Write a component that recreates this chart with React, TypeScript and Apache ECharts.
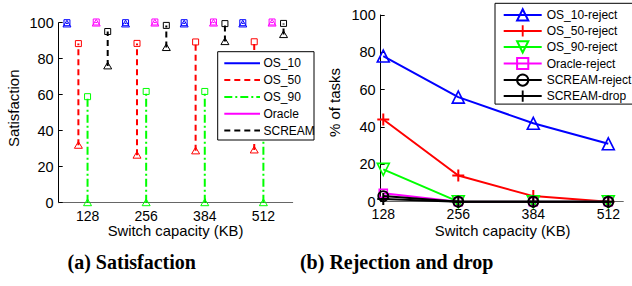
import React, { useEffect, useRef } from "react";
import * as echarts from "echarts";

// ---------- data ----------
const CAPACITIES = [128, 256, 384, 512];
const TICK_LABELS = [128, 256, 384, 512];
const Y_TICKS = [0, 20, 40, 60, 80, 100];

// (a) Satisfaction: per series, max (square) and min (triangle) per capacity
const SAT_NAMES = ["OS_10", "OS_50", "OS_90", "Oracle", "SCREAM"];
const OS10_MAX = [100, 100, 100, 100];
const OS10_MIN = [99.3, 99.3, 99.3, 99.3];
const OS50_MAX = [88.4, 88.5, 89.3, 89.4];
const OS50_MIN = [31.9, 26.4, 28.8, 29.3];
const OS90_MAX = [58.9, 61.8, 61.8, 62];
const OS90_MIN = [0, 0, 0, 0];
const ORACLE_MAX = [100.4, 100.4, 100.4, 100.4];
const ORACLE_MIN = [99.8, 99.8, 99.8, 99.8];
const SCREAM_MAX = [95.1, 98.5, 99.5, 99.6];
const SCREAM_MIN = [76, 86.2, 89.5, 93.4];

// (b) Rejection and drop (% of tasks)
const REJ_NAMES = [
  "OS_10-reject",
  "OS_50-reject",
  "OS_90-reject",
  "Oracle-reject",
  "SCREAM-reject",
  "SCREAM-drop",
];
const OS10_REJECT = [78, 56, 42, 31];
const OS50_REJECT = [44, 14, 3, 0];
const OS90_REJECT = [17.3, 0, 0, 0];
const ORACLE_REJECT = [4.5, 0, 0, 0];
const SCREAM_REJECT = [3, 0, 0, 0];
const SCREAM_DROP = [1.5, 0, 0, 0];

// ---------- styling ----------
const BLUE = "#0000ff";
const RED = "#ff0000";
const GREEN = "#00ff00";
const MAGENTA = "#ff00ff";
const BLACK = "#000000";
const FONT = "Liberation Sans";
const PLUS = "path://M5,0H7V5H12V7H7V12H5V7H0V5H5Z";

const SAT_STYLE = [
  { color: BLUE, dash: null as number[] | null, width: 2, offset: -45 },
  { color: RED, dash: [6, 4], width: 2, offset: -20 },
  { color: GREEN, dash: [8, 3, 2, 3], width: 2, offset: 0 },
  { color: MAGENTA, dash: null, width: 2, offset: 19 },
  { color: BLACK, dash: [6, 4], width: 2, offset: 44 },
];
const SAT_DATA = [
  [OS10_MAX, OS10_MIN],
  [OS50_MAX, OS50_MIN],
  [OS90_MAX, OS90_MIN],
  [ORACLE_MAX, ORACLE_MIN],
  [SCREAM_MAX, SCREAM_MIN],
];

function satSeries(idx: number) {
  const st = SAT_STYLE[idx];
  const [mx, mn] = SAT_DATA[idx];
  return {
    type: "custom",
    name: SAT_NAMES[idx],
    xAxisIndex: 0,
    yAxisIndex: 0,
    clip: false,
    z: 2 + idx,
    encode: { x: 0, y: [1, 2] },
    data: CAPACITIES.map((c, i) => [c + st.offset, mn[i], mx[i]]),
    renderItem: (_params: any, api: any) => {
      const x = api.value(0);
      const lo = api.coord([x, api.value(1)]);
      const hi = api.coord([x, api.value(2)]);
      return {
        type: "group",
        children: [
          {
            type: "line",
            shape: { x1: lo[0], y1: lo[1], x2: hi[0], y2: hi[1] },
            style: {
              stroke: st.color,
              lineWidth: st.width,
              lineDash: st.dash || undefined,
            },
          },
          {
            type: "rect",
            shape: { x: hi[0] - 3, y: hi[1] - 3, width: 6, height: 6 },
            style: { stroke: st.color, fill: "none", lineWidth: 1 },
          },
          {
            type: "polygon",
            shape: {
              points: [
                [lo[0], lo[1] - 3.7],
                [lo[0] + 4, lo[1] + 3],
                [lo[0] - 4, lo[1] + 3],
              ],
            },
            style: { stroke: st.color, fill: "none", lineWidth: 1 },
          },
        ],
      };
    },
  };
}

const REJ_DATA = [
  OS10_REJECT,
  OS50_REJECT,
  OS90_REJECT,
  ORACLE_REJECT,
  SCREAM_REJECT,
  SCREAM_DROP,
];
const REJ_STYLE = [
  { color: BLUE, symbol: "triangle", size: 12, rotate: 0, hollow: true, bw: 1.6 },
  { color: RED, symbol: PLUS, size: 12, rotate: 0, hollow: false, bw: 0 },
  { color: GREEN, symbol: "triangle", size: 12, rotate: 180, hollow: true, bw: 1.6 },
  { color: MAGENTA, symbol: "rect", size: 8, rotate: 0, hollow: true, bw: 1.6 },
  { color: BLACK, symbol: "circle", size: 10, rotate: 0, hollow: true, bw: 1.8 },
  { color: BLACK, symbol: PLUS, size: 12, rotate: 0, hollow: false, bw: 0 },
];

function rejSeries(idx: number) {
  const st = REJ_STYLE[idx];
  return {
    type: "line",
    name: REJ_NAMES[idx],
    xAxisIndex: 1,
    yAxisIndex: 1,
    data: CAPACITIES.map((c, i) => [c, REJ_DATA[idx][i]]),
    symbol: st.symbol,
    symbolSize: st.size,
    symbolRotate: st.rotate,
    showAllSymbol: true,
    clip: false,
    lineStyle: { color: st.color, width: 2 },
    itemStyle: st.hollow
      ? { color: "rgba(0,0,0,0)", borderColor: st.color, borderWidth: st.bw }
      : { color: st.color, borderWidth: 0 },
    emphasis: { disabled: true },
    z: 2 + idx,
  };
}

const axisText = { color: "#000", fontFamily: FONT, fontSize: 14 };

function leftLegend() {
  const x0 = 217.7,
    y0 = 51.7;
  const items: any[] = [
    {
      type: "rect",
      z: 100,
      shape: { x: x0, y: y0, width: 96.3, height: 88.3 },
      style: { fill: "#fff", stroke: "#000", lineWidth: 1 },
    },
  ];
  SAT_NAMES.forEach((n, i) => {
    const y = 63.3 + i * 16.8;
    const st = SAT_STYLE[i];
    items.push({
      type: "line",
      z: 101,
      shape: { x1: 224.3, y1: y, x2: 260, y2: y },
      style: { stroke: st.color, lineWidth: 2, lineDash: st.dash || undefined },
    });
    items.push({
      type: "text",
      z: 101,
      x: 263.5,
      y,
      style: {
        text: n,
        fill: "#000",
        fontFamily: FONT,
        fontSize: 12,
        align: "left",
        verticalAlign: "middle",
      },
    });
  });
  return items;
}

function label(text: string, x: number, y: number, rot = 0, size = 15, bold = false, serif = false) {
  return {
    type: "text",
    z: 100,
    x,
    y,
    rotation: rot,
    style: {
      text,
      fill: "#000",
      fontFamily: serif ? "Liberation Serif" : FONT,
      fontSize: size,
      fontWeight: bold ? "bold" : "normal",
      align: "center",
      verticalAlign: "middle",
    },
  };
}

export default function App() {
  const ref = useRef<HTMLDivElement>(null);
  useEffect(() => {
    if (!ref.current) return;
    const chart = echarts.init(ref.current, undefined, { renderer: "svg" });
    const option: any = {
      animation: false,
      backgroundColor: "#fff",
      grid: [
        { left: 58.7, top: 22.7, width: 234, height: 180, outerBoundsMode: "none" },
        { left: 380.7, top: 15, width: 242.6, height: 186.7, outerBoundsMode: "none" },
      ],
      xAxis: [
        {
          type: "value",
          gridIndex: 0,
          min: 65,
          max: 576,
          axisLine: { lineStyle: { color: "#666", width: 1 } },
          axisTick: { inside: true, length: 4, customValues: TICK_LABELS, lineStyle: { color: "#000" } },
          axisLabel: { ...axisText, margin: 6, customValues: TICK_LABELS },
          splitLine: { show: false },
        },
        {
          type: "value",
          gridIndex: 1,
          min: 123.6,
          max: 537.6,
          axisLine: { lineStyle: { color: "#666", width: 1 } },
          axisTick: { inside: true, length: 4, customValues: TICK_LABELS, lineStyle: { color: "#000" } },
          axisLabel: { ...axisText, margin: 5, customValues: TICK_LABELS },
          splitLine: { show: false },
        },
      ],
      yAxis: [
        {
          type: "value",
          gridIndex: 0,
          min: 0,
          max: 100,
          interval: 20,
          axisLine: { show: true, lineStyle: { color: "#000", width: 1 } },
          axisTick: { show: true, inside: true, length: 4, customValues: Y_TICKS, lineStyle: { color: "#000" } },
          axisLabel: { ...axisText, fontSize: 14.5, margin: 5, customValues: Y_TICKS },
          splitLine: { show: false },
        },
        {
          type: "value",
          gridIndex: 1,
          min: 0,
          max: 100,
          interval: 20,
          axisLine: { show: true, lineStyle: { color: "#000", width: 1 } },
          axisTick: { show: true, inside: true, length: 4, customValues: Y_TICKS, lineStyle: { color: "#000" } },
          axisLabel: { ...axisText, fontSize: 14.5, margin: 5, customValues: Y_TICKS },
          splitLine: { show: false },
        },
      ],
      legend: {
        data: REJ_NAMES,
        orient: "vertical",
        left: 495,
        top: 3.3,
        itemWidth: 38,
        itemHeight: 14,
        itemGap: 3.4,
        padding: [5, 3, 2, 7.7],
        borderColor: "#000",
        borderWidth: 1,
        backgroundColor: "#fff",
        selectedMode: false,
        textStyle: { color: "#000", fontFamily: FONT, fontSize: 12 },
      },
      series: [
        ...SAT_NAMES.map((_, i) => satSeries(i)),
        ...REJ_NAMES.map((_, i) => rejSeries(i)),
      ],
      graphic: [
        ...leftLegend(),
        label("Satisfaction", 13.3, 108.3, Math.PI / 2),
        label("% of tasks", 334.3, 102.5, Math.PI / 2),
        label("Switch capacity (KB)", 175.5, 231, 0, 14.8),
        label("Switch capacity (KB)", 502.7, 231, 0, 14.8),
        label("(a) Satisfaction", 131.7, 261.7, 0, 20, true, true),
        label("(b) Rejection and drop", 396.7, 261.7, 0, 20, true, true),
      ],
    };
    chart.setOption(option);
    return () => chart.dispose();
  }, []);
  return (
    <div
      ref={ref}
      style={{ position: "fixed", left: 0, top: 0, width: 632, height: 286 }}
    />
  );
}
